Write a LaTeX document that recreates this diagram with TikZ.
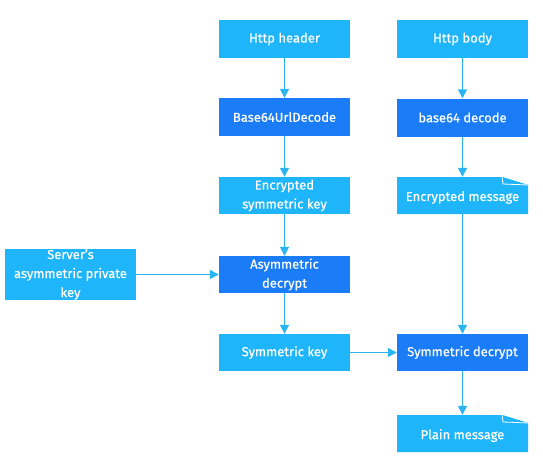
\documentclass[tikz,border=0pt]{standalone}
\usepackage{fontspec}
\setmainfont{Fira Sans}[FakeBold=0.6]
\usetikzlibrary{arrows.meta}
\definecolor{lblue}{HTML}{1FB5FA}
\definecolor{dblue}{HTML}{1A7CF6}
\definecolor{arr}{HTML}{2AB4F2}
\begin{document}
\begin{tikzpicture}[x=1pt,y=-1pt,
  txt/.style={text=white,font=\fontsize{13}{19}\selectfont,align=center},
  box/.style={txt,fill=#1,minimum width=131pt,minimum height=38pt,inner sep=1pt},
  conn/.style={draw=arr,line width=1.5pt,-{Triangle[length=9pt,width=9pt]}}]
\useasboundingbox (0,0) rectangle (543,466);
\node[box=lblue] (hh) at (284.5,39) {Http header};
\node[box=dblue] (b64u) at (284.5,117) {Base64UrlDecode};
\node[box=lblue,minimum height=37pt] (esk) at (284.5,195.5) {Encrypted\\symmetric key};
\node[box=dblue,minimum height=37pt] (ad) at (284.5,274.5) {Asymmetric\\decrypt};
\node[box=lblue,minimum height=37pt] (sk) at (284.5,352.5) {Symmetric key};
\node[box=lblue,minimum height=51pt,inner sep=0pt] (srv) at (70.5,274.5) {Server's\\asymmetric private\\key};
\node[box=lblue] (hb) at (462.5,39) {Http body};
\node[box=dblue] (b64) at (462.5,117.5) {base64 decode};
\node[box=dblue,minimum height=37pt] (sd) at (462.5,352.5) {Symmetric decrypt};
% note shapes
\coordinate (em) at (462.5,195.5);
\fill[lblue] (397,177) -- (502,177) -- (528,185) -- (528,214) -- (397,214) -- cycle;
\draw[white,line width=0.8pt,fill=lblue] (502,177) -- (503,184) -- (528,185);
\node[txt,inner sep=1pt] (emt) at (462.5,197.5) {Encrypted message};
\node[minimum width=131pt,minimum height=37pt,inner sep=0pt] (emb) at (em) {};
\coordinate (pm) at (462.5,433.5);
\fill[lblue] (397,415) -- (502,415) -- (528,423) -- (528,452) -- (397,452) -- cycle;
\draw[white,line width=0.8pt,fill=lblue] (502,415) -- (503,422) -- (528,423);
\node[txt,inner sep=1pt] (pmt) at (462.5,435.5) {Plain message};
\node[minimum width=131pt,minimum height=37pt,inner sep=0pt] (pmb) at (pm) {};
% connectors
\draw[conn] (hh) -- (b64u);
\draw[conn] (b64u) -- (esk);
\draw[conn] (esk) -- (ad);
\draw[conn] (ad) -- (sk);
\draw[conn] (srv) -- (ad);
\draw[conn] (sk) -- (sd);
\draw[conn] (hb) -- (b64);
\draw[conn] (b64) -- (emb);
\draw[conn] (emb) -- (sd);
\draw[conn] (sd) -- (pmb);
\end{tikzpicture}
\end{document}
